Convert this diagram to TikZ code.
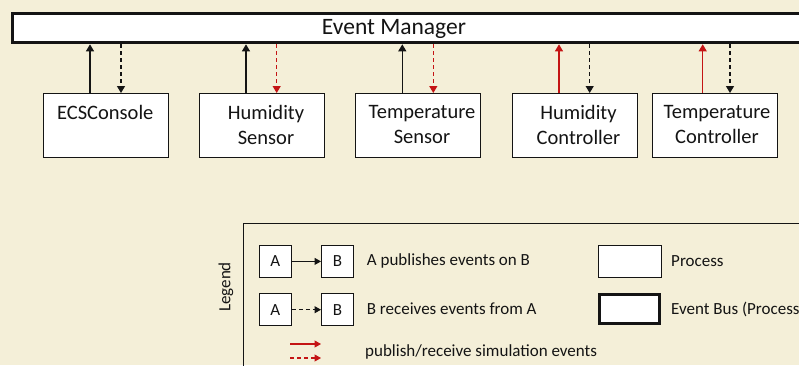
\documentclass[tikz,border=0pt]{standalone}
\usepackage{fontspec}
\setmainfont{Carlito}
\usetikzlibrary{arrows.meta}
\definecolor{paper}{RGB}{244,239,216}
\definecolor{simred}{RGB}{196,20,20}
\definecolor{ink}{RGB}{20,20,20}

\tikzset{
  proc/.style={draw=ink, line width=0.8pt, fill=white, anchor=north west,
    minimum width=125pt, minimum height=64pt, inner sep=0pt},
  bus/.style={draw=ink, line width=3pt, fill=white, anchor=north west, inner sep=0pt},
  boxtext/.style={text=ink, align=center, font=\fontsize{20.5}{25}\selectfont, inner sep=0pt},
  legtext/.style={text=ink, anchor=west, font=\fontsize{17}{20}\selectfont, inner sep=0pt},
  smallbox/.style={draw=ink, line width=0.8pt, fill=white, anchor=north west,
    minimum width=32pt, minimum height=32pt, inner sep=0pt,
    font=\fontsize{17}{20}\selectfont, text=ink},
  tip/.style={-{Triangle[length=7pt,width=8pt]}, line width=1.2pt},
  smalltip/.style={-{Triangle[length=6.5pt,width=7pt]}, line width=1.1pt},
  pubarrow/.style={tip, draw=ink},
  recvarrow/.style={tip, draw=ink, dash pattern=on 4pt off 3pt},
  simpub/.style={tip, draw=simred},
  simrecv/.style={tip, draw=simred, dash pattern=on 4pt off 3pt},
}

\begin{document}
\begin{tikzpicture}[x=1pt, y=-1pt]
  \path[fill=paper] (0,0) rectangle (799,365);
  \useasboundingbox (0,0) rectangle (799,365);
  \clip (0,0) rectangle (799,365);

  % event bus across the top
  \node[bus, minimum width=830pt, minimum height=29pt] (em) at (11,12.3) {};
  \node[text=ink, font=\fontsize{23.5}{28}\selectfont, inner sep=0pt] (emt) at (394,29) {Event Manager};

  % processes
  \node[proc] (ecs) at (42.7,93) {};
  \node[proc] (hs)  at (199.3,93) {};
  \node[proc] (ts)  at (355.3,93) {};
  \node[proc] (hc)  at (511.7,93) {};
  \node[proc] (tc)  at (652.3,93) {};

  \node[boxtext] (ecst) at (105.3,124.5) {ECSConsole\\\phantom{Sensor}};
  \node[boxtext] (hst)  at (266,124.5) {Humidity\\Sensor};
  \node[boxtext] (tst)  at (422,124.5) {Temperature\\Sensor};
  \node[boxtext] (hct)  at (578.5,124.5) {Humidity\\Controller};
  \node[boxtext] (tct)  at (717,124.5) {Temperature\\Controller};

  % publish (up) and receive (down) connectors
  \draw[pubarrow]  ([xshift=47.3pt]ecs.north west) -- ([xshift=47.3pt]ecs.north west |- em.south);
  \draw[recvarrow] ([xshift=78.3pt]ecs.north west |- em.south) -- ([xshift=78.3pt]ecs.north west);

  \draw[pubarrow]  ([xshift=46.7pt]hs.north west) -- ([xshift=46.7pt]hs.north west |- em.south);
  \draw[simrecv]   ([xshift=77.4pt]hs.north west |- em.south) -- ([xshift=77.4pt]hs.north west);

  \draw[pubarrow]  ([xshift=47pt]ts.north west) -- ([xshift=47pt]ts.north west |- em.south);
  \draw[simrecv]   ([xshift=78pt]ts.north west |- em.south) -- ([xshift=78pt]ts.north west);

  \draw[simpub]    ([xshift=47.3pt]hc.north west) -- ([xshift=47.3pt]hc.north west |- em.south);
  \draw[recvarrow] ([xshift=78pt]hc.north west |- em.south) -- ([xshift=78pt]hc.north west);

  \draw[simpub]    ([xshift=50.4pt]tc.north west) -- ([xshift=50.4pt]tc.north west |- em.south);
  \draw[recvarrow] ([xshift=77.7pt]tc.north west |- em.south) -- ([xshift=77.7pt]tc.north west);

  % legend
  \node[draw=ink, line width=0.8pt, anchor=north west, minimum width=600pt,
        minimum height=200pt, inner sep=0pt] (legend) at (243.3,222.7) {};
  \node[text=ink, rotate=90, font=\fontsize{17}{20}\selectfont, inner sep=0pt]
        (legendt) at (226,287) {Legend};

  \node[smallbox] (a1) at (259,245) {A};
  \node[smallbox] (b1) at (321,245) {B};
  \node[smallbox] (a2) at (259,293.3) {A};
  \node[smallbox] (b2) at (321,293.3) {B};
  \draw[pubarrow, smalltip]  (a1.east) -- (b1.west);
  \draw[recvarrow, smalltip] (a2.east) -- (b2.west);

  \coordinate (r1a) at (290,344);
  \coordinate (r1b) at (321,344);
  \coordinate (r2a) at (290,358);
  \coordinate (r2b) at (321,358);
  \draw[simpub, smalltip]  (r1a) -- (r1b);
  \draw[simrecv, smalltip] (r2a) -- (r2b);

  \node[legtext] (l1) at (366.7,261) {A publishes events on B};
  \node[legtext] (l2) at (366.7,309) {B receives events from A};
  \node[legtext] (l3) at (365,352) {publish/receive simulation events};

  \node[draw=ink, line width=0.8pt, fill=white, anchor=north west, minimum width=62.7pt,
        minimum height=32.3pt, inner sep=0pt] (procbox) at (598,245) {};
  \node[legtext] (l4) at (671,261) {Process};
  \node[bus, minimum width=59.7pt, minimum height=28.7pt] (busbox) at (598,293.3) {};
  \node[legtext] (l5) at (671,309) {Event Bus (Process)};
\end{tikzpicture}
\end{document}
